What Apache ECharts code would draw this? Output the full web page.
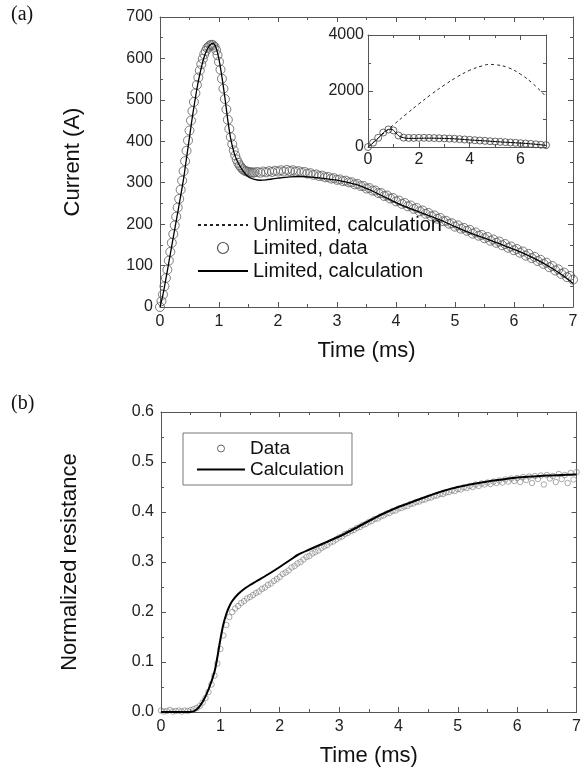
<!DOCTYPE html>
<html>
<head>
<meta charset="utf-8">
<title>Current and normalized resistance</title>
<script src="https://cdn.jsdelivr.net/npm/echarts@6/dist/echarts.min.js"></script>
<style>
  html, body { margin: 0; padding: 0; background: #fff; }
  #chart { width: 584px; height: 772px; }
</style>
</head>
<body>
<div id="chart"></div>
<script>
// ---- (a) current, measured data (circles) ----
const limitedDataTime = [
  0, 0.025, 0.05, 0.075, 0.1, 0.125, 0.15, 0.175, 0.2, 0.225, 0.25, 0.275, 0.3, 0.325, 0.35, 0.375, 0.4, 0.425, 0.45, 0.475,
  0.5, 0.525, 0.55, 0.575, 0.6, 0.625, 0.65, 0.675, 0.7, 0.725, 0.75, 0.775, 0.8, 0.825, 0.85, 0.875, 0.9, 0.925, 0.95, 0.975,
  1.0, 1.025, 1.05, 1.075, 1.1, 1.125, 1.15, 1.175, 1.2, 1.225, 1.25, 1.275, 1.3, 1.325, 1.35, 1.375, 1.4, 1.425, 1.45, 1.475,
  1.5, 1.525, 1.55, 1.575, 1.6,
  1.65, 1.7, 1.75, 1.8, 1.85, 1.9, 1.95, 2.0,
  2.05, 2.1, 2.15, 2.2, 2.25, 2.3, 2.35, 2.4, 2.45, 2.5, 2.55, 2.6, 2.65, 2.7, 2.75, 2.8, 2.85, 2.9, 2.95, 3.0,
  3.05, 3.1, 3.15, 3.2, 3.25, 3.3, 3.35, 3.4, 3.45, 3.5, 3.55, 3.6, 3.65, 3.7, 3.75, 3.8, 3.85, 3.9, 3.95, 4.0,
  4.05, 4.1, 4.15, 4.2, 4.25, 4.3, 4.35, 4.4, 4.45, 4.5, 4.55, 4.6, 4.65, 4.7, 4.75, 4.8, 4.85, 4.9, 4.95, 5.0,
  5.05, 5.1, 5.15, 5.2, 5.25, 5.3, 5.35, 5.4, 5.45, 5.5, 5.55, 5.6, 5.65, 5.7, 5.75, 5.8, 5.85, 5.9, 5.95, 6.0,
  6.05, 6.1, 6.15, 6.2, 6.25, 6.3, 6.35, 6.4, 6.45, 6.5, 6.55, 6.6, 6.65, 6.7, 6.75, 6.8, 6.85, 6.9, 6.95, 7.0
]
const limitedDataCurrent = [
  0, 14, 30, 50, 70, 90, 112, 133, 155, 176, 197, 218, 240, 261, 283, 305, 328, 352, 377, 402,
  426, 450, 473, 495, 516, 536, 554, 571, 586, 599, 610, 618, 625, 629, 632, 633, 632, 628, 620, 608,
  592, 573, 551, 527, 502, 477, 452, 430, 410, 393, 378, 366, 356, 348, 342, 337, 333, 330, 328, 327,
  326, 325, 325, 324, 325,
  326, 324, 327, 325, 328, 326, 329, 327,
  330, 327, 331, 328, 330, 327, 328, 325, 326, 322, 323, 319, 320, 316, 317, 313, 314, 310, 311, 307,
  308, 304, 305, 301, 301, 296, 297, 292, 292, 286, 287, 281, 281, 275, 275, 268, 269, 262, 263, 255,
  257, 249, 251, 243, 245, 237, 239, 231, 233, 225, 227, 219, 221, 213, 215, 207, 208, 201, 202, 194,
  197, 189, 191, 184, 186, 177, 180, 172, 174, 166, 169, 160, 163, 155, 158, 149, 152, 143, 146, 137,
  140, 131, 134, 124, 128, 118, 121, 111, 114, 104, 107, 96, 99, 88, 91, 80, 83, 72, 75, 66
]

// ---- (a) current, calculation with limiter (line) ----
const limitedCalcTime = [
  0, 0.05, 0.1, 0.15, 0.2, 0.25, 0.3, 0.35, 0.4, 0.45, 0.5, 0.55, 0.6, 0.65, 0.7, 0.75, 0.8, 0.85, 0.9, 0.95,
  1.0, 1.05, 1.1, 1.15, 1.2, 1.25, 1.3, 1.4, 1.5, 1.6, 1.7, 1.8, 1.9, 2.0,
  2.2, 2.4, 2.6, 2.8, 3.0, 3.2, 3.4, 3.6, 3.8, 4.0, 4.2, 4.4, 4.6, 4.8, 5.0, 5.2, 5.4, 5.6, 5.8, 6.0,
  6.2, 6.4, 6.6, 6.8, 7.0
]
const limitedCalcCurrent = [
  0, 30, 68, 108, 148, 188, 228, 268, 310, 360, 410, 460, 505, 545, 578, 604, 622, 633, 636, 626,
  598, 555, 505, 450, 405, 375, 355, 330, 314, 308, 306, 307, 309, 311,
  314, 315, 313, 310, 306, 300, 292, 280, 266, 252, 240, 229, 218, 207, 194, 182, 171, 161, 150, 139,
  127, 113, 97, 79, 57
]

// ---- (a) inset: calculation without limiter (dashed) ----
const unlimitedCalcTime = [0, 0.5, 1.0, 1.5, 2.0, 2.5, 3.0, 3.5, 4.0, 4.5, 4.75, 5.0, 5.5, 6.0, 6.5, 7.0]
const unlimitedCalcCurrent = [0, 400, 790, 1170, 1540, 1890, 2210, 2500, 2740, 2900, 2950, 2940, 2840, 2600, 2250, 1800]

// ---- (b) normalized resistance, data (circles) ----
const resistDataTime = [
  0, 0.05, 0.1, 0.15, 0.2, 0.25, 0.3, 0.35, 0.4, 0.45, 0.5, 0.55, 0.6, 0.65, 0.7, 0.75, 0.8, 0.85, 0.9, 0.95,
  1.0, 1.05, 1.1, 1.15, 1.2, 1.25, 1.3, 1.35, 1.4, 1.45, 1.5, 1.55, 1.6, 1.65, 1.7, 1.75, 1.8, 1.85, 1.9, 1.95,
  2.0, 2.05, 2.1, 2.15, 2.2, 2.25, 2.3, 2.35, 2.4, 2.45, 2.5, 2.55, 2.6, 2.65, 2.7, 2.75, 2.8, 2.85, 2.9, 2.95,
  3.0, 3.05, 3.1, 3.15, 3.2, 3.25, 3.3, 3.35, 3.4, 3.45, 3.5, 3.55, 3.6, 3.65, 3.7, 3.75, 3.8, 3.85, 3.9, 3.95,
  4.0, 4.05, 4.1, 4.15, 4.2, 4.25, 4.3, 4.35, 4.4, 4.45, 4.5, 4.55, 4.6, 4.65, 4.7, 4.75, 4.8, 4.85, 4.9, 4.95,
  5.0, 5.05, 5.1, 5.15, 5.2, 5.25, 5.3, 5.35, 5.4, 5.45, 5.5, 5.55, 5.6, 5.65, 5.7, 5.75, 5.8, 5.85, 5.9, 5.95,
  6.0, 6.05, 6.1, 6.15, 6.2, 6.25, 6.3, 6.35, 6.4, 6.45, 6.5, 6.55, 6.6, 6.65, 6.7, 6.75, 6.8, 6.85, 6.9, 6.95,
  7.0
]
const resistDataValue = [
  0.003, 0.001, 0.002, 0.004, 0.001, 0.002, 0.003, 0.001, 0.003, 0.002, 0.004, 0.006, 0.008, 0.012, 0.019, 0.028, 0.040, 0.055, 0.073, 0.097,
  0.126, 0.153, 0.174, 0.190, 0.200, 0.207, 0.212, 0.218, 0.222, 0.227, 0.230, 0.234, 0.238, 0.241, 0.246, 0.249, 0.254, 0.257, 0.262, 0.266,
  0.270, 0.276, 0.279, 0.283, 0.289, 0.292, 0.297, 0.300, 0.305, 0.310, 0.312, 0.317, 0.320, 0.323, 0.328, 0.331, 0.334, 0.339, 0.341, 0.345,
  0.349, 0.351, 0.356, 0.358, 0.362, 0.364, 0.368, 0.370, 0.374, 0.376, 0.380, 0.382, 0.386, 0.387, 0.391, 0.393, 0.397, 0.398, 0.402, 0.403,
  0.407, 0.408, 0.411, 0.412, 0.416, 0.417, 0.420, 0.421, 0.424, 0.425, 0.428, 0.429, 0.432, 0.433, 0.436, 0.436, 0.439, 0.440, 0.443, 0.442,
  0.446, 0.445, 0.449, 0.448, 0.452, 0.450, 0.455, 0.452, 0.457, 0.455, 0.459, 0.456, 0.461, 0.458, 0.463, 0.459, 0.465, 0.461, 0.467, 0.462,
  0.468, 0.460, 0.470, 0.464, 0.471, 0.458, 0.472, 0.466, 0.473, 0.455, 0.474, 0.467, 0.472, 0.460, 0.476, 0.466, 0.474, 0.458, 0.478, 0.465,
  0.480
]

// ---- (b) normalized resistance, calculation (line) ----
const resistCalcTime = [
  0, 0.5, 0.6, 0.7, 0.8, 0.9, 0.95, 1.0, 1.05, 1.1, 1.15, 1.2, 1.3, 1.4, 1.5, 1.6, 1.8, 2.0, 2.2, 2.3,
  2.5, 2.75, 3.0, 3.25, 3.5, 3.75, 4.0, 4.25, 4.5, 4.75, 5.0, 5.25, 5.5, 5.75, 6.0, 6.25, 6.5, 6.75, 7.0
]
const resistCalcValue = [
  0, 0, 0.005, 0.02, 0.045, 0.08, 0.11, 0.145, 0.175, 0.196, 0.211, 0.222, 0.236, 0.246, 0.254, 0.261, 0.275, 0.29, 0.306, 0.314,
  0.325, 0.338, 0.351, 0.366, 0.382, 0.397, 0.41, 0.421, 0.432, 0.442, 0.45, 0.456, 0.461, 0.465, 0.469, 0.471, 0.473, 0.474, 0.475
]

const fontFamily = '"Liberation Sans", Arial, sans-serif'
const axisColor = '#555'
const textColor = '#222'

function pairs(xs, ys) {
  return xs.map((x, i) => [x, ys[i]])
}

// inset shows every 0.2 ms of the measured data
const insetData = pairs(limitedDataTime, limitedDataCurrent).filter(p => Math.abs(p[0] * 5 - Math.round(p[0] * 5)) < 1e-6)

// one axis of a framed box; mirror axes carry ticks only
function frameAxis(gridIndex, position, range, extra) {
  const mirror = position === 'top' || position === 'right'
  return Object.assign({
    type: 'value',
    gridIndex: gridIndex,
    position: position,
    min: range[0],
    max: range[1],
    interval: range[2],
    axisLine: { show: true, onZero: false, lineStyle: { color: axisColor, width: 1 } },
    axisTick: { show: true, inside: true, length: 5, lineStyle: { color: axisColor } },
    minorTick: { show: true, splitNumber: 2, length: 3, lineStyle: { color: axisColor } },
    splitLine: { show: false },
    minorSplitLine: { show: false },
    axisLabel: { show: !mirror, color: textColor, fontSize: 16, margin: 7, fontFamily: fontFamily }
  }, extra || {})
}

const nameStyle = { fontSize: 22, color: '#111', fontFamily: fontFamily }
const insetLabel = { color: textColor, fontSize: 16, fontFamily: fontFamily, formatter: v => String(v) }
// line-only legend swatch (hide the dot ECharts puts on line icons)
const noDot = { opacity: 0 }
// legend circles are drawn darker than the data cloud
const darkRing = { color: 'rgba(255,255,255,0)', borderColor: '#222', borderWidth: 1.2 }

const chart = echarts.init(document.getElementById('chart'))
const option = {
  animation: false,
  backgroundColor: '#fff',
  textStyle: { fontFamily: fontFamily },
  grid: [
    { left: 160, top: 17, width: 413, height: 290 },   // (a)
    { left: 368, top: 35, width: 178, height: 112 },   // (a) inset
    { left: 161, top: 412, width: 418, height: 300 }   // (b)
  ],
  xAxis: [
    frameAxis(0, 'bottom', [0, 7, 1], { name: 'Time (ms)', nameLocation: 'middle', nameGap: 33, nameTextStyle: nameStyle }),
    frameAxis(0, 'top', [0, 7, 1]),
    frameAxis(1, 'bottom', [0, 7, 2], { axisLabel: Object.assign({ margin: 5, showMaxLabel: false }, insetLabel) }),
    frameAxis(1, 'top', [0, 7, 2]),
    frameAxis(2, 'bottom', [0, 7, 1], { name: 'Time (ms)', nameLocation: 'middle', nameGap: 33, nameTextStyle: nameStyle }),
    frameAxis(2, 'top', [0, 7, 1])
  ],
  yAxis: [
    frameAxis(0, 'left', [0, 700, 100], { name: 'Current (A)', nameLocation: 'middle', nameGap: 76, nameTextStyle: nameStyle }),
    frameAxis(0, 'right', [0, 700, 100]),
    frameAxis(1, 'left', [0, 4000, 2000], { axisLabel: Object.assign({ margin: 4 }, insetLabel) }),
    frameAxis(1, 'right', [0, 4000, 2000]),
    frameAxis(2, 'left', [0, 0.6, 0.1], {
      name: 'Normalized resistance', nameLocation: 'middle', nameGap: 80, nameTextStyle: nameStyle,
      axisLabel: { color: textColor, fontSize: 16, margin: 7, fontFamily: fontFamily, formatter: v => v.toFixed(1) }
    }),
    frameAxis(2, 'right', [0, 0.6, 0.1])
  ],
  legend: [
    {
      data: [
        { name: 'Unlimited, calculation', itemStyle: noDot },
        { name: 'Limited, data', itemStyle: darkRing },
        { name: 'Limited, calculation', itemStyle: noDot }
      ],
      orient: 'vertical',
      left: 197,
      top: 215,
      padding: 0,
      itemWidth: 50,
      itemHeight: 11,
      itemGap: 3,
      textStyle: { fontSize: 20, color: '#111', fontFamily: fontFamily }
    },
    {
      data: [
        { name: 'Data', itemStyle: { color: 'rgba(255,255,255,0)', borderColor: '#444', borderWidth: 1 } },
        { name: 'Calculation', itemStyle: noDot }
      ],
      orient: 'vertical',
      left: 183,
      top: 433,
      padding: [6, 8, 6, 13],
      itemWidth: 48,
      itemHeight: 7,
      itemGap: 2,
      borderColor: '#777',
      borderWidth: 1,
      textStyle: { fontSize: 19, color: '#111', fontFamily: fontFamily }
    }
  ],
  graphic: [
    { type: 'text', left: 11, top: 5, style: { text: '(a)', fontSize: 20, fontFamily: '"Liberation Serif", "Times New Roman", serif', fill: '#111' } },
    { type: 'text', left: 11, top: 394, style: { text: '(b)', fontSize: 20, fontFamily: '"Liberation Serif", "Times New Roman", serif', fill: '#111' } }
  ],
  series: [
    {
      name: 'Limited, data',
      type: 'scatter',
      xAxisIndex: 0,
      yAxisIndex: 0,
      symbol: 'circle',
      symbolSize: 9,
      itemStyle: { color: 'rgba(255,255,255,0)', borderColor: '#5e5e5e', borderWidth: 1 },
      data: pairs(limitedDataTime, limitedDataCurrent)
    },
    {
      name: 'Limited, calculation',
      type: 'line',
      xAxisIndex: 0,
      yAxisIndex: 0,
      symbol: 'none',
      smooth: 0.3,
      lineStyle: { color: '#000', width: 1.3 },
      itemStyle: { color: '#000' },
      data: pairs(limitedCalcTime, limitedCalcCurrent)
    },
    {
      name: 'Limited, data',
      type: 'scatter',
      xAxisIndex: 2,
      yAxisIndex: 2,
      symbol: 'circle',
      symbolSize: 7,
      itemStyle: { color: 'rgba(255,255,255,0)', borderColor: '#444', borderWidth: 1 },
      data: insetData
    },
    {
      name: 'Limited, calculation',
      type: 'line',
      xAxisIndex: 2,
      yAxisIndex: 2,
      symbol: 'none',
      smooth: 0.3,
      lineStyle: { color: '#000', width: 1 },
      data: pairs(limitedCalcTime, limitedCalcCurrent)
    },
    {
      name: 'Unlimited, calculation',
      type: 'line',
      xAxisIndex: 2,
      yAxisIndex: 2,
      symbol: 'none',
      smooth: 0.4,
      lineStyle: { color: '#222', width: 1, type: [3, 3] },
      itemStyle: { color: '#222' },
      data: pairs(unlimitedCalcTime, unlimitedCalcCurrent)
    },
    {
      name: 'Data',
      type: 'scatter',
      xAxisIndex: 4,
      yAxisIndex: 4,
      symbol: 'circle',
      symbolSize: 5.5,
      itemStyle: { color: 'rgba(255,255,255,0)', borderColor: '#7a7a7a', borderWidth: 0.8 },
      data: pairs(resistDataTime, resistDataValue)
    },
    {
      name: 'Calculation',
      type: 'line',
      xAxisIndex: 4,
      yAxisIndex: 4,
      symbol: 'none',
      smooth: 0.3,
      lineStyle: { color: '#000', width: 2 },
      itemStyle: { color: '#000' },
      data: pairs(resistCalcTime, resistCalcValue)
    }
  ]
}
chart.setOption(option)
</script>
</body>
</html>
